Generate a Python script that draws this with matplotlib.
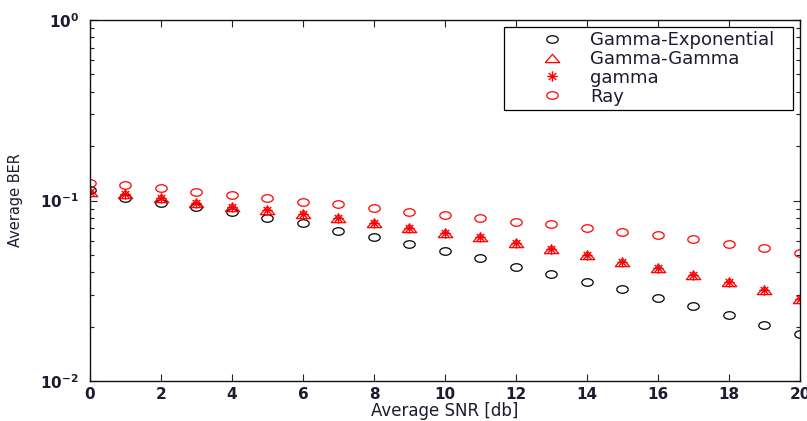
import numpy as np
import matplotlib
matplotlib.use("Agg")
import matplotlib.pyplot as plt
from matplotlib.path import Path
from matplotlib.legend_handler import HandlerLine2D

# data
snr = [0, 1, 2, 3, 4, 5, 6, 7, 8, 9, 10, 11, 12, 13, 14, 15, 16, 17, 18, 19, 20]
ber_gamma_exp = [0.1143, 0.1036, 0.0972, 0.0924, 0.0867, 0.0797, 0.0748, 0.0678,
                 0.0625, 0.0574, 0.0525, 0.0478, 0.0430, 0.0392, 0.0355, 0.0323,
                 0.0289, 0.0260, 0.0231, 0.0204, 0.0181]
ber_gamma_gamma = [0.1119, 0.1086, 0.1028, 0.0972, 0.0917, 0.0886, 0.0838, 0.0803,
                   0.0753, 0.0702, 0.0663, 0.0625, 0.0584, 0.0541, 0.0499, 0.0458,
                   0.0424, 0.0388, 0.0355, 0.0319, 0.0285]
ber_gamma = [0.1119, 0.1086, 0.1028, 0.0972, 0.0917, 0.0886, 0.0838, 0.0803,
             0.0753, 0.0702, 0.0663, 0.0625, 0.0584, 0.0541, 0.0499, 0.0458,
             0.0424, 0.0388, 0.0355, 0.0319, 0.0285]
ber_ray = [0.1245, 0.1219, 0.1168, 0.1119, 0.1077, 0.1036, 0.0985, 0.0953,
           0.0912, 0.0867, 0.0831, 0.0797, 0.0763, 0.0738, 0.0707, 0.0669,
           0.0644, 0.0610, 0.0576, 0.0545, 0.0510]
labels = ["Gamma-Exponential", "Gamma-Gamma", "gamma", "Ray"]
xticks = [0, 2, 4, 6, 8, 10, 12, 14, 16, 18, 20]
yticks = [1e-2, 1e-1, 1e0]
yticklabels = [r"$10^{-2}$", r"$10^{-1}$", r"$10^{0}$"]

plt.rcParams["font.family"] = ["DejaVu Sans"]
plt.rcParams["mathtext.fontset"] = "dejavusans"
plt.rcParams["mathtext.default"] = "bf"

txt_col = "#1c1c30"

# the reference is stretched sideways, so markers are wide ellipses/triangles
t = np.linspace(0, 2 * np.pi, 41)
m_circle = Path(np.column_stack([np.cos(t), 0.66 * np.sin(t)]))
m_tri = Path([(-1, -0.57), (1, -0.57), (0, 0.57), (-1, -0.57)])
m_star = Path([(-0.9, 0), (0.9, 0), (0, -0.9), (0, 0.9),
               (-0.65, -0.6), (0.65, 0.6), (-0.65, 0.6), (0.65, -0.6)],
              [Path.MOVETO, Path.LINETO] * 4)

fig = plt.figure(figsize=(8.07, 4.21), dpi=100)
ax = fig.add_axes([0.1115, 0.0950, 0.8798, 0.8575])

ax.plot(snr, ber_gamma_exp, linestyle="none", marker=m_circle, ms=8.2,
        mfc="none", mec="black", mew=0.9, label=labels[0])
ax.plot(snr, ber_gamma_gamma, linestyle="none", marker=m_tri, ms=10.5,
        mfc="none", mec="red", mew=0.9, label=labels[1])
ax.plot(snr, ber_gamma, linestyle="none", marker=m_star, ms=7.5,
        mfc="none", mec="red", mew=1.0, label=labels[2])
ax.plot(snr, ber_ray, linestyle="none", marker=m_circle, ms=8.2,
        mfc="none", mec="red", mew=0.9, label=labels[3])

ax.set_yscale("log")
ax.set_xlim(0, 20)
ax.set_ylim(1e-2, 1e0)
ax.set_xticks(xticks)
ax.set_xticklabels([str(v) for v in xticks], fontweight="bold")
ax.set_yticks(yticks)
ax.set_yticklabels(yticklabels)

ax.tick_params(which="both", direction="in", top=True, right=True,
               labelsize=11, labelcolor=txt_col, color="#222222")
ax.tick_params(which="major", length=5, width=0.8)
ax.tick_params(which="minor", length=3, width=0.8)
ax.tick_params(axis="x", pad=4)
ax.tick_params(axis="y", pad=8)
for s in ax.spines.values():
    s.set_linewidth(1.0)
    s.set_color("#111111")

ax.set_xlabel("Average SNR [db]", fontsize=12, color=txt_col)
ax.set_ylabel("Average BER", fontsize=10.5, color=txt_col)
ax.xaxis.set_label_coords(0.5, -0.058)
ax.yaxis.set_label_coords(-0.094, 0.5)

# legend box stretched to the reference width, entries kept on the left
fs = 13
hmap = {ln: HandlerLine2D(numpoints=1, xpad=1.82) for ln in ax.get_lines()}
leg = ax.legend(loc="upper right", bbox_to_anchor=(0.5831, 0.5, 0.4070, 0.481),
                mode="expand", borderaxespad=0, fontsize=fs, frameon=True,
                fancybox=False, framealpha=1, edgecolor="black", borderpad=0.25,
                handlelength=3.0, handletextpad=1.51, labelspacing=0.04,
                handler_map=hmap)
leg.get_frame().set_linewidth(0.9)
for tx in leg.get_texts():
    tx.set_color(txt_col)

plt.savefig("out.png", dpi=100)
plt.close()
